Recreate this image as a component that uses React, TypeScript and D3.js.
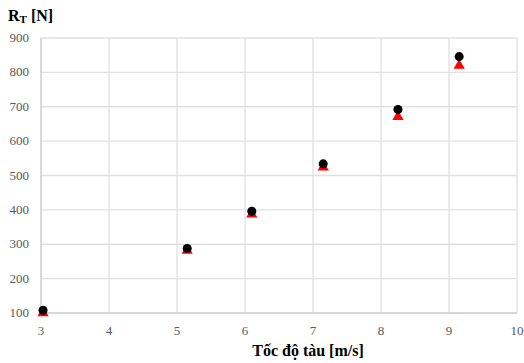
import React, { useEffect, useRef } from "react";
import * as d3 from "d3";

const speeds = [3.03, 5.15, 6.1, 7.15, 8.25, 9.15];
const rtMeasured = [108, 288, 396, 534, 692, 846];
const rtComputed = [100, 282, 387, 524, 671, 820];
const xTicks = [3, 4, 5, 6, 7, 8, 9, 10];
const yTicks = [100, 200, 300, 400, 500, 600, 700, 800, 900];

export default function App() {
  const ref = useRef<SVGSVGElement>(null);

  useEffect(() => {
    const width = 524, height = 363;
    const margin = { top: 38, right: 7, bottom: 50, left: 41 };
    const svg = d3.select(ref.current);
    svg.selectAll("*").remove();

    const x = d3.scaleLinear().domain([3, 10]).range([margin.left, width - margin.right]);
    const y = d3.scaleLinear().domain([100, 900]).range([height - margin.bottom, margin.top]);

    // gridlines
    svg.append("g").selectAll("line").data(yTicks).join("line")
      .attr("x1", x(3)).attr("x2", x(10))
      .attr("y1", d => y(d)).attr("y2", d => y(d))
      .attr("stroke", "#e0e0e0").attr("stroke-width", 1.3);
    svg.append("g").selectAll("line").data(xTicks).join("line")
      .attr("x1", d => x(d)).attr("x2", d => x(d))
      .attr("y1", y(100)).attr("y2", y(900))
      .attr("stroke", "#e0e0e0").attr("stroke-width", 1.3);

    // axis lines
    svg.append("line").attr("x1", x(3)).attr("x2", x(10)).attr("y1", y(100)).attr("y2", y(100))
      .attr("stroke", "#d0d0d0").attr("stroke-width", 1.3);
    svg.append("line").attr("x1", x(3)).attr("x2", x(3)).attr("y1", y(100)).attr("y2", y(900))
      .attr("stroke", "#d0d0d0").attr("stroke-width", 1.3);

    // tick labels
    svg.append("g").selectAll("text").data(yTicks).join("text")
      .attr("x", 29).attr("y", d => y(d) + 4)
      .attr("text-anchor", "end")
      .attr("font-family", "Liberation Serif, serif").attr("font-size", 13)
      .attr("fill", "#595959")
      .text(d => d);
    svg.append("g").selectAll("text").data(xTicks).join("text")
      .attr("x", d => x(d)).attr("y", y(100) + 22)
      .attr("text-anchor", "middle")
      .attr("font-family", "Liberation Serif, serif").attr("font-size", 13)
      .attr("fill", "#595959")
      .text(d => d);

    // axis titles
    svg.append("text")
      .attr("x", 308).attr("y", 356)
      .attr("text-anchor", "middle")
      .attr("font-family", "Liberation Serif, serif").attr("font-size", 16)
      .attr("font-weight", "bold").attr("fill", "#000")
      .text("Tốc độ tàu [m/s]");
    const t = svg.append("text")
      .attr("x", 8).attr("y", 21)
      .attr("font-family", "Liberation Serif, serif").attr("font-size", 16)
      .attr("font-weight", "bold").attr("fill", "#000");
    t.append("tspan").text("R");
    t.append("tspan").attr("font-size", 11).attr("dy", 2).text("T");
    t.append("tspan").attr("dy", -2).text(" [N]");

    // computed (triangles)
    const tri = d3.symbol().type(d3.symbolTriangle).size(55);
    svg.append("g").selectAll("path").data(speeds).join("path")
      .attr("transform", (d, i) => `translate(${x(d)},${y(rtComputed[i])})`)
      .attr("d", tri)
      .attr("fill", "#ff0000");

    // measured (circles)
    svg.append("g").selectAll("circle").data(speeds).join("circle")
      .attr("cx", d => x(d)).attr("cy", (d, i) => y(rtMeasured[i]))
      .attr("r", 4.5)
      .attr("fill", "#000");
  }, []);

  return (
    <svg ref={ref} width={524} height={363}
      style={{ position: "absolute", left: 0, top: 0, background: "#fff" }} />
  );
}
